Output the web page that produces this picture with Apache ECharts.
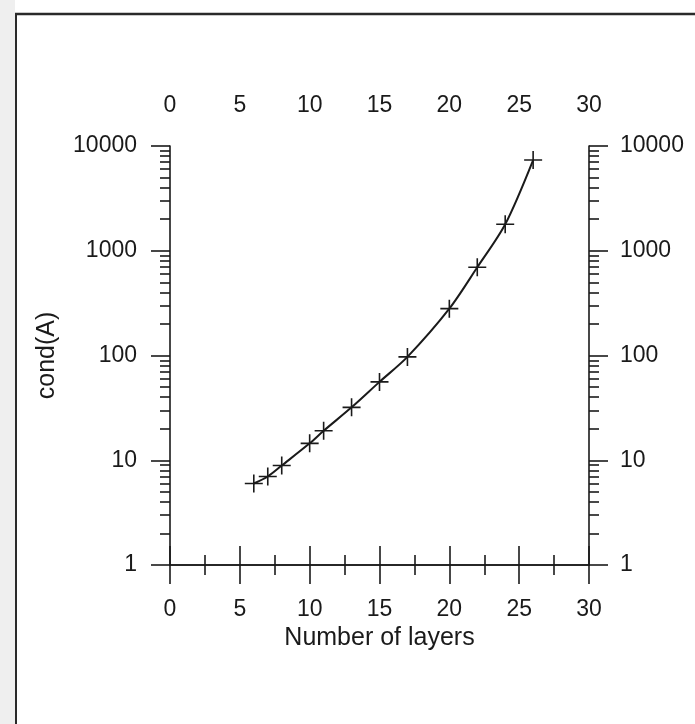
<!DOCTYPE html>
<html>
<head>
<meta charset="utf-8">
<script src="https://cdn.jsdelivr.net/npm/echarts@6/dist/echarts.min.js"></script>
<style>
html,body{margin:0;padding:0;background:#fff;}
#chart{width:695px;height:724px;}
</style>
</head>
<body>
<div id="chart"></div>
<script>
// ---- data ----
const layers = [6, 7, 8, 10, 11, 13, 15, 17, 20, 22, 24, 26];
const condA  = [6.0, 7.0, 8.9, 14.5, 19.1, 32, 56, 97, 280, 695, 1790, 7350];
const xTicks = [0, 5, 10, 15, 20, 25, 30];
const yTickLabels = ['1', '10', '100', '1000', '10000'];
const minorMultipliers = [2, 3, 4, 5, 6, 7, 8, 9];

const seriesData = layers.map((x, i) => [x, condA[i]]);
const yMinorExp = [];
for (let d = 0; d < yTickLabels.length - 1; d++) {
  minorMultipliers.forEach(m => yMinorExp.push(d + Math.log10(m)));
}

const FONT = "'Liberation Sans', Arial, sans-serif";
const INK = '#1a1a1a';
const tickFont = { fontFamily: FONT, fontSize: 23, color: INK };

function xAxisDef(pos) {
  return {
    type: 'value', position: pos, min: xTicks[0], max: xTicks[xTicks.length - 1], interval: xTicks[1] - xTicks[0],
    axisLine: { show: true, lineStyle: { color: INK, width: 1.6 } },
    axisTick: { show: true, length: 19, lineStyle: { color: INK, width: 1.6 } },
    minorTick: { show: true, splitNumber: 2, length: 10, lineStyle: { color: INK, width: 1.6 } },
    splitLine: { show: false }, minorSplitLine: { show: false },
    axisLabel: Object.assign({ margin: pos === 'bottom' ? 33 : 29 }, tickFont),
    name: pos === 'bottom' ? 'Number of layers' : '',
    nameLocation: 'middle', nameGap: 57,
    nameTextStyle: { fontFamily: FONT, fontSize: 25, color: INK }
  };
}

function yMajorDef(pos) {
  return {
    type: 'value', position: pos, min: 0, max: yTickLabels.length - 1, interval: 1,
    axisLine: { show: true, lineStyle: { color: INK, width: 1.6 } },
    axisTick: { show: true, length: 19, lineStyle: { color: INK, width: 1.6 } },
    splitLine: { show: false },
    axisLabel: Object.assign({ margin: pos === 'left' ? 33 : 31, formatter: v => yTickLabels[Math.round(v)] }, tickFont),
    name: pos === 'left' ? 'cond(A)' : '',
    nameLocation: 'middle', nameRotate: 90, nameGap: 110,
    nameTextStyle: { fontFamily: FONT, fontSize: 25, color: INK }
  };
}

function yMinorDef(pos) {
  return {
    type: 'value', position: pos, min: 0, max: yTickLabels.length - 1,
    axisLine: { show: false },
    axisTick: { show: true, length: 10, customValues: yMinorExp, lineStyle: { color: INK, width: 1.6 } },
    axisLabel: { show: false },
    splitLine: { show: false }
  };
}

const chart = echarts.init(document.getElementById('chart'), null, { renderer: 'canvas' });
chart.setOption({
  backgroundColor: '#ffffff',
  animation: false,
  grid: { left: 170, right: 106, top: 146, bottom: 159, containLabel: false, outerBoundsMode: 'none' },
  xAxis: [xAxisDef('bottom'), xAxisDef('top')],
  yAxis: [
    { type: 'log', logBase: 10, min: 1, max: 10000, position: 'left', show: false },
    yMajorDef('left'), yMinorDef('left'), yMajorDef('right'), yMinorDef('right')
  ],
  graphic: [
    { type: 'rect', shape: { x: 0, y: 0, width: 15, height: 724 }, style: { fill: '#efefef' }, silent: true },
    { type: 'line', shape: { x1: 15, y1: 14, x2: 695, y2: 14 }, style: { stroke: '#2a2a2a', lineWidth: 2.5 }, silent: true },
    { type: 'line', shape: { x1: 16, y1: 14, x2: 16, y2: 724 }, style: { stroke: '#2a2a2a', lineWidth: 2 }, silent: true }
  ],
  series: [{
    type: 'line', xAxisIndex: 0, yAxisIndex: 0,
    data: seriesData,
    smooth: 0.3,
    symbol: 'path://M0,8.2H18V9.8H0Z M8.2,0H9.8V18H8.2Z',
    symbolSize: 18,
    itemStyle: { color: INK },
    lineStyle: { color: INK, width: 2 }
  }]
});
</script>
</body>
</html>
